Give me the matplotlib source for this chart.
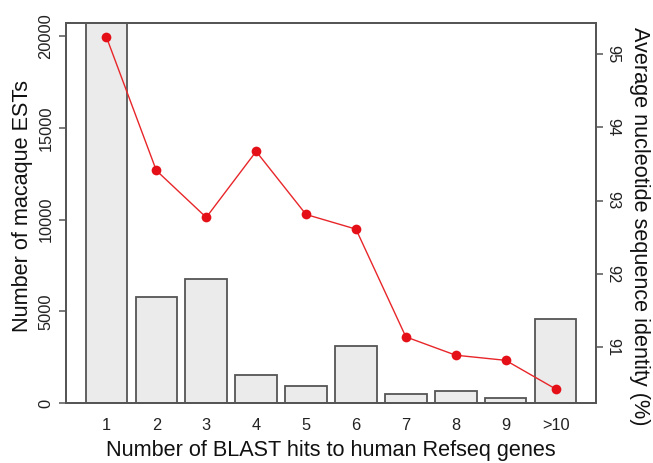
import matplotlib
matplotlib.use("Agg")
import matplotlib.pyplot as plt
import numpy as np

plt.rcParams['font.family'] = ['Liberation Sans', 'DejaVu Sans']

categories = ["1", "2", "3", "4", "5", "6", "7", "8", "9", ">10"]
est_counts = [22000, 5800, 6750, 1520, 920, 3100, 500, 680, 260, 4600]
identity = [95.23, 93.41, 92.77, 93.67, 92.81, 92.61, 91.14, 90.89, 90.82, 90.43]
left_ticks = [0, 5000, 10000, 15000, 20000]
right_ticks = [91, 92, 93, 94, 95]

W, H = 653, 463
fig = plt.figure(figsize=(W / 100, H / 100), dpi=100)
ax = fig.add_axes([66 / W, (H - 403) / H, 530 / W, 380 / H])

x = np.arange(len(categories))
edge = '#555555'
ax.bar(x, est_counts, width=1 / 1.2, color='#ebebeb', edgecolor=edge, linewidth=1.3, zorder=2)
ax.set_xlim(-0.81, 9.81)
ax.set_ylim(0, 20720)
ax.set_xticks(x)
ax.set_xticklabels(categories, fontsize=11.8)
ax.tick_params(axis='x', length=0, pad=11, colors='#222222')
ax.set_yticks(left_ticks)
ax.set_yticklabels([str(t) for t in left_ticks], rotation=90, va='center', fontsize=11.8)
ax.tick_params(axis='y', length=5, width=1.1, color=edge, pad=4, labelcolor='#222222')
for s in ax.spines.values():
    s.set_color(edge)
    s.set_linewidth(1.3)
ax.set_xlabel("Number of BLAST hits to human Refseq genes", fontsize=15.6, color='#111111')
ax.xaxis.set_label_coords(0.5, -0.097)
ax.set_ylabel("Number of macaque ESTs", fontsize=15.6, color='#111111', va='center')
ax.yaxis.set_label_coords(-0.083, 0.518)

ax2 = ax.twinx()
rng = max(identity) - min(identity)
ax2.set_ylim(min(identity) - 0.04 * rng, max(identity) + 0.04 * rng)
ax2.plot(x, identity, color='#e8262a', linewidth=1.0, zorder=3)
ax2.plot(x, identity, 'o', color='#e50f17', markersize=7, markeredgewidth=0, zorder=4)
ax2.set_yticks(right_ticks)
ax2.set_yticklabels([str(t) for t in right_ticks], rotation=-90, va='center', fontsize=11.8)
ax2.tick_params(axis='y', length=5, width=1.1, color=edge, pad=2, labelcolor='#222222')
for s in ax2.spines.values():
    s.set_color(edge)
    s.set_linewidth(1.3)
ax2.set_ylabel("Average nucleotide sequence identity (%)", rotation=-90, fontsize=15.6,
               color='#111111', va='center')
ax2.yaxis.set_label_coords(1.083, 0.466)

fig.savefig("out.png", dpi=100)
